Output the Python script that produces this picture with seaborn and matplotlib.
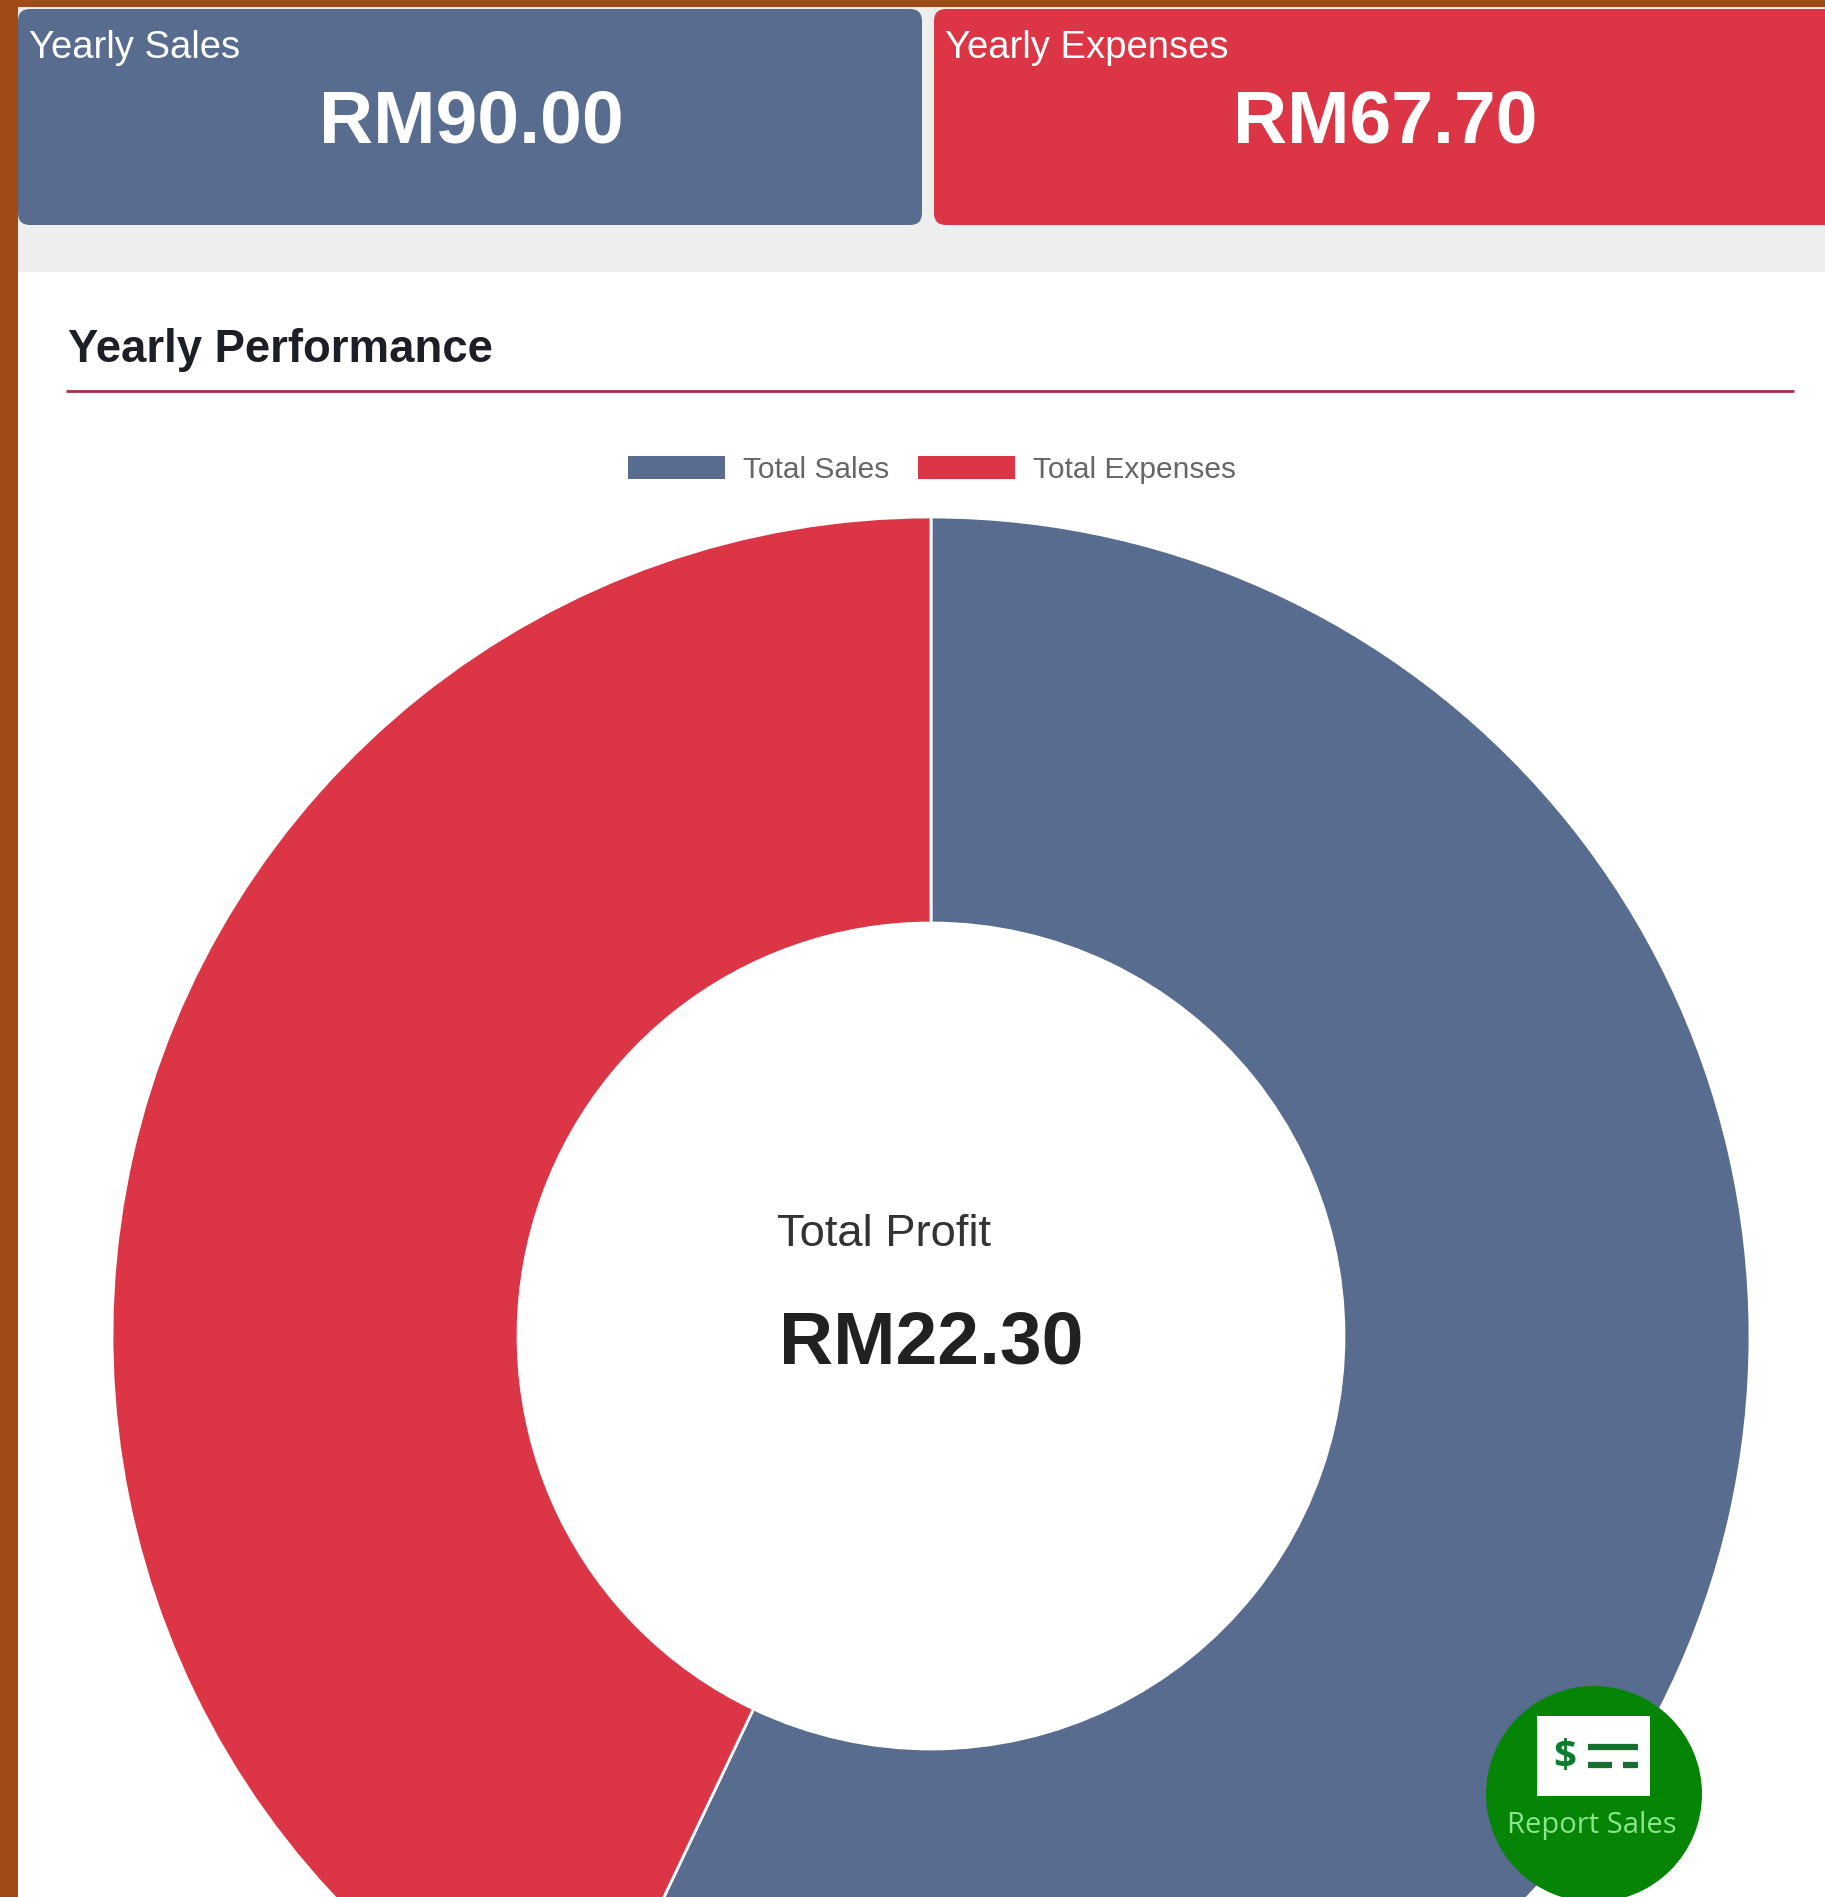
import matplotlib
matplotlib.use('Agg')
import matplotlib.pyplot as plt
from matplotlib.patches import Circle, FancyBboxPatch, Patch, Rectangle
import seaborn as sns

# chart values
categories = ['Total Sales', 'Total Expenses']
amounts = [90.00, 67.70]
profit = 22.30
card_titles = ['Yearly Sales', 'Yearly Expenses']
chart_title = 'Yearly Performance'
center_title = 'Total Profit'
button_label = 'Report Sales'

W, H = 1825, 1897
sns.set_theme(style='white')
plt.rcParams['font.family'] = ['Liberation Sans', 'DejaVu Sans']
colors = sns.color_palette(['#586c8f', '#dc3545'])


def Y(y):
    # picture pixels count from the top, the axes from the bottom
    return H - y


def money(v):
    return 'RM%.2f' % v


fig = plt.figure(figsize=(W / 100, H / 100), dpi=100, facecolor='#a04a17')
ax = fig.add_axes([0, 0, 1, 1])
ax.set_xlim(0, W)
ax.set_ylim(0, H)
ax.set_aspect('equal')
ax.axis('off')

# page background
ax.add_patch(Rectangle((18, 0), W - 18, Y(7), fc='#eeeeee', ec='none'))
ax.add_patch(Rectangle((18, 0), W - 18, Y(272), fc='white', ec='none'))

# the two cards
for x0, x1, col, title in [(18, 922, colors[0], card_titles[0]),
                           (934, W + 30, colors[1], card_titles[1])]:
    ax.add_patch(FancyBboxPatch((x0 + 12, Y(225) + 12), x1 - x0 - 24, 192,
                                boxstyle='round,pad=12,rounding_size=12',
                                fc=col, ec='none'))
    ax.text(x0 + 11, Y(48), title, color='white', fontsize=27.5, va='center', ha='left')

ax.text(471, Y(123), money(amounts[0]), color='white', fontsize=54,
        fontweight='bold', ha='center', va='center')
ax.text(1385, Y(123), money(amounts[1]), color='white', fontsize=54,
        fontweight='bold', ha='center', va='center')

# heading
ax.text(68, Y(350), chart_title, color='#1c2026', fontsize=32.8, fontweight='bold',
        ha='left', va='center')
ax.plot([66, 1794], [Y(391), Y(391)], color='#a5304a', lw=2, solid_capstyle='butt')

# doughnut
R = 819
wedges, _ = ax.pie(amounts, colors=colors, center=(931, Y(1336)), radius=R,
                   startangle=90, counterclock=False, frame=True,
                   wedgeprops=dict(width=R - 413, edgecolor='white', linewidth=2))
ax.set_xlim(0, W)
ax.set_ylim(0, H)
ax.axis('off')

handles = [Patch(fc=c, ec='none') for c in colors]
leg = ax.legend(handles, categories, loc='center', bbox_to_anchor=(932 / W, Y(470) / H),
                ncol=2, frameon=False, fontsize=21.5, handlelength=3.25, handleheight=0.8,
                handletextpad=0.62, columnspacing=0.95, labelcolor='#666666')

ax.text(777, Y(1234), center_title, color='#333333', fontsize=32.7, ha='left', va='center')
ax.text(931, Y(1344), money(profit), color='#212121', fontsize=54, fontweight='bold',
        ha='center', va='center')

# report sales button
ax.add_patch(Circle((1594, Y(1794)), 108, fc='#068406', ec='none', zorder=5))
ax.add_patch(Rectangle((1537, Y(1796)), 113, 80, fc='white', ec='none', zorder=6))
ax.text(1565, Y(1757), '$', color='#0b7d2b', fontsize=29, fontweight='bold',
        family=['Open Sans', 'DejaVu Sans'], ha='center', va='center', zorder=7)
ax.plot([1588, 1638], [Y(1747), Y(1747)], color='#14702c', lw=4.5, solid_capstyle='butt', zorder=7)
ax.plot([1588, 1612], [Y(1765), Y(1765)], color='#14702c', lw=4.5, solid_capstyle='butt', zorder=7)
ax.plot([1623, 1638], [Y(1765), Y(1765)], color='#14702c', lw=4.5, solid_capstyle='butt', zorder=7)
ax.text(1592, Y(1826), button_label, color='#8be58b', fontsize=21,
        family=['Open Sans', 'DejaVu Sans'], ha='center', va='center', zorder=7)

fig.savefig('out.png', dpi=100, facecolor=fig.get_facecolor())
